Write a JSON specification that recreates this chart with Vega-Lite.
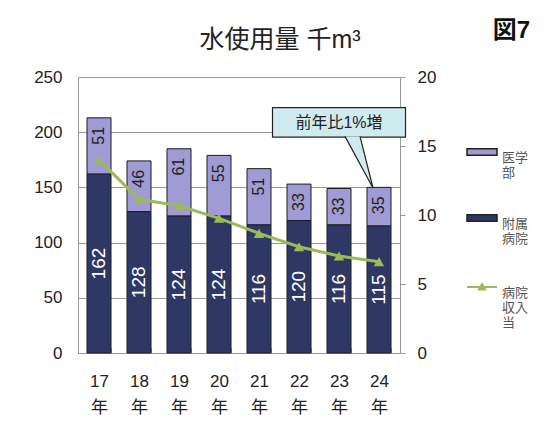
{
  "$schema": "https://vega.github.io/schema/vega-lite/v6.json",
  "width": 322,
  "height": 276,
  "autosize": {"type": "none"},
  "padding": {"left": 78, "top": 77, "right": 145, "bottom": 79},
  "background": "white",
  "config": {
    "font": "Liberation Sans, Noto Sans CJK JP",
    "view": {"stroke": "#9a9a9a"}
  },
  "title": {"text": "水使用量 千m³", "fontSize": 25, "fontWeight": "normal", "color": "#222", "font": "Liberation Sans, Noto Sans CJK JP", "dx": 41, "offset": -35},
  "data": {"values": [
    {"year": "17", "医学部": 51, "附属病院": 162, "ratio": 13.99},
    {"year": "18", "医学部": 46, "附属病院": 128, "ratio": 11.14},
    {"year": "19", "医学部": 61, "附属病院": 124, "ratio": 10.67},
    {"year": "20", "医学部": 55, "附属病院": 124, "ratio": 9.76},
    {"year": "21", "医学部": 51, "附属病院": 116, "ratio": 8.67},
    {"year": "22", "医学部": 33, "附属病院": 120, "ratio": 7.70},
    {"year": "23", "医学部": 33, "附属病院": 116, "ratio": 7.03},
    {"year": "24", "医学部": 35, "附属病院": 115, "ratio": 6.62}
  ]},
  "encoding": {
    "x": {"field": "year", "type": "ordinal", "scale": {"paddingInner": 0.4, "paddingOuter": 0.225},
      "axis": {"title": null, "labelAngle": 0, "labelAlign": "center", "labelFlush": false, "labelBound": false, "labelExpr": "datum.label ? [datum.label, '年'] : ''", "labelFontSize": 17, "labelColor": "#222", "labelLineHeight": 26, "labelBaseline": "top", "labelPadding": 25, "tickBand": "extent", "tickSize": -5, "tickColor": "#999", "domainColor": "#999"}}
  },
  "layer": [
    {
      "layer": [
        {
          "transform": [{"fold": ["医学部", "附属病院"], "as": ["series", "value"]}],
          "mark": {"type": "bar", "stroke": "#1b1b24", "strokeWidth": 1},
          "encoding": {
            "y": {"field": "value", "type": "quantitative", "stack": "zero", "scale": {"domain": [0, 250], "nice": false},
              "axis": {"orient": "left", "title": null, "values": [0, 50, 100, 150, 200, 250], "grid": true, "gridColor": "#9a9a9a", "domain": false, "ticks": false, "tickSize": 0, "labelPadding": 16, "labelFontSize": 17, "labelColor": "#222"}},
            "color": {"field": "series", "type": "nominal",
              "scale": {"domain": ["医学部", "附属病院"], "range": ["#A09BD4", "#2F3864"]},
              "legend": {"orient": "none", "legendX": 388, "legendY": 59, "title": null, "symbolSize": 900,
                "symbolType": "M-1,-0.22L1,-0.22L1,0.22L-1,0.22Z", "symbolStrokeColor": "#222", "symbolStrokeWidth": 1.5, "symbolOpacity": 1,
                "labelFontSize": 13, "labelColor": "#555", "labelOffset": 4, "rowPadding": 22, "labelBaseline": "top",
                "labelExpr": "datum.label == '医学部' ? ['医学', '部'] : ['附属', '病院']"}},
            "order": {"field": "series", "sort": "descending"}
          }
        },
        {
          "transform": [
            {"fold": ["医学部", "附属病院"], "as": ["series", "value"]},
            {"stack": "value", "groupby": ["year"], "sort": [{"field": "series", "order": "descending"}], "as": ["y0", "y1"]},
            {"filter": {"field": "series", "equal": "医学部"}}
          ],
          "mark": {"type": "text", "angle": 270, "align": "right", "baseline": "middle", "dx": -9, "fontSize": 16, "color": "#222"},
          "encoding": {
            "y": {"field": "y1", "type": "quantitative", "axis": {"title": null}},
            "text": {"field": "value", "type": "quantitative"}
          }
        }
      ]
    },
    {
      "mark": {"type": "text", "angle": 270, "align": "center", "baseline": "middle", "fontSize": 19, "color": "white"},
      "encoding": {
        "y": {"field": "附属病院", "type": "quantitative", "scale": {"domain": [0, 500], "nice": false}, "axis": null},
        "text": {"field": "附属病院", "type": "quantitative"}
      }
    },
    {
      "layer": [
        {
          "mark": {"type": "line", "strokeWidth": 3},
          "encoding": {
            "y": {"field": "ratio", "type": "quantitative", "scale": {"domain": [0, 20], "nice": false},
              "axis": {"orient": "right", "title": "図7", "titleAngle": 0, "titleX": 111, "titleY": -47, "titleAlign": "center", "titleBaseline": "middle", "titleFontSize": 24, "titleFontWeight": "bold", "titleColor": "#111", "values": [0, 5, 10, 15, 20], "grid": false, "domain": false, "ticks": true, "tickSize": 5, "tickColor": "#999", "labelPadding": 12, "labelFontSize": 17, "labelColor": "#222"}},
            "stroke": {"datum": "病院収入当", "type": "nominal", "scale": {"domain": ["病院収入当"], "range": ["#9BBB59"]},
              "legend": {"orient": "none", "legendX": 388, "legendY": 194, "title": null, "symbolSize": 900,
                "symbolType": "M-1,0L1,0M-0.2,0.17L0,-0.2L0.2,0.17Z", "symbolStrokeWidth": 2, "symbolFillColor": "#9BBB59", "symbolOpacity": 1,
                "labelFontSize": 13, "labelColor": "#555", "labelOffset": 4, "labelBaseline": "top",
                "labelExpr": "['病院', '収入', '当']"}}
          }
        },
        {
          "mark": {"type": "point", "shape": "triangle-up", "filled": true, "size": 110, "opacity": 1, "color": "#9BBB59"},
          "encoding": {
            "y": {"field": "ratio", "type": "quantitative"}
          }
        },
        {
          "data": {"values": [{}]},
          "mark": {"type": "bar", "width": 133, "fill": "#CFEBEF", "stroke": "#222", "strokeWidth": 1.2},
          "encoding": {"x": {"datum": "23", "type": "ordinal"}, "y": {"datum": 15.65}, "y2": {"datum": 17.78}}
        },
        {
          "data": {"values": [{}]},
          "mark": {"type": "point", "shape": "M-0.85,-0.64L-0.15,0.65L-0.475,-0.64", "size": 6400, "filled": true, "fill": "#CFEBEF", "stroke": "#222", "strokeWidth": 1.2, "opacity": 1},
          "encoding": {"x": {"datum": "24", "type": "ordinal"}, "y": {"datum": 13.84}}
        },
        {
          "data": {"values": [{}]},
          "mark": {"type": "text", "text": "前年比1%増", "fontSize": 16, "color": "#222"},
          "encoding": {"x": {"datum": "23", "type": "ordinal"}, "y": {"datum": 16.7}}
        }
      ]
    }
  ],
  "resolve": {"scale": {"y": "independent"}}
}
